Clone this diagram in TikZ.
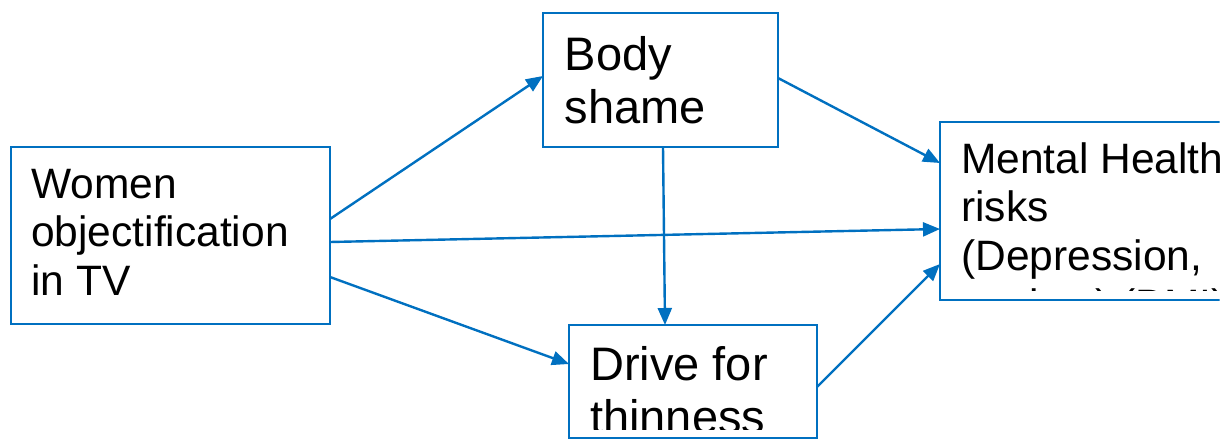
\documentclass[tikz,border=0pt]{standalone}
\usepackage{fontspec}
\setmainfont{Liberation Sans}
\usetikzlibrary{arrows.meta}
\definecolor{pblue}{HTML}{0070C0}
\begin{document}
\begin{tikzpicture}[x=1pt,y=-1pt,
  box/.style={draw=pblue,line width=2.4pt,inner sep=0pt,outer sep=0pt,fill=white},
  lbl/.style={anchor=base west,inner sep=0pt,align=left,text=black},
  big/.style={font=\fontsize{47}{53}\selectfont},
  mid/.style={font=\fontsize{42.5}{48.7}\selectfont},
  conn/.style={draw=pblue,line width=2.4pt,-{Triangle[length=17pt,width=14pt]}}]
\useasboundingbox (0,0) rectangle (1231,439);
\begin{scope}
\clip (0,0) rectangle (1219.5,439);
% boxes
\node[box,minimum width=319pt,minimum height=177pt] (women) at (170.5,235.5) {};
\node[box,minimum width=235pt,minimum height=134pt] (body) at (660.5,80) {};
\node[box,minimum width=248pt,minimum height=113pt] (drive) at (693,381.5) {};
\node[box,minimum width=300pt,minimum height=178pt] (mental) at (1090,211) {};
% texts (anchored at the baseline of the last line)
\node[lbl,mid] (womentxt) at (31,295.4) {Women\\objectification\\in TV};
\node[lbl,big] (bodytxt) at (564.5,123) {Body\\shame};
\begin{scope}
\clip (569,325) rectangle (817,429);
\node[lbl,big] (drivetxt) at (590,433) {Drive for\\thinness};
\end{scope}
\begin{scope}
\clip (940,122) rectangle (1219.5,290);
\node[lbl,mid] (mentaltxt) at (961,319.1) {Mental Health\\risks\\(Depression,\\anxiety) (BMI)};
\end{scope}
% connectors
\draw[conn] ([yshift=16.5pt]women.east) -- ([yshift=4pt]body.west);
\draw[conn] ([yshift=-6.5pt]women.east) -- ([yshift=-18pt]mental.west);
\draw[conn] ([yshift=-41.5pt]women.east) -- ([yshift=17.5pt]drive.west);
\draw[conn] ([xshift=2.5pt]body.south) -- ([xshift=-28pt]drive.north);
\draw[conn] ([yshift=2pt]body.east) -- ([yshift=48pt]mental.west);
\draw[conn] ([yshift=-5.5pt]drive.east) -- ([yshift=-53pt]mental.west);
\end{scope}
\end{tikzpicture}
\end{document}
